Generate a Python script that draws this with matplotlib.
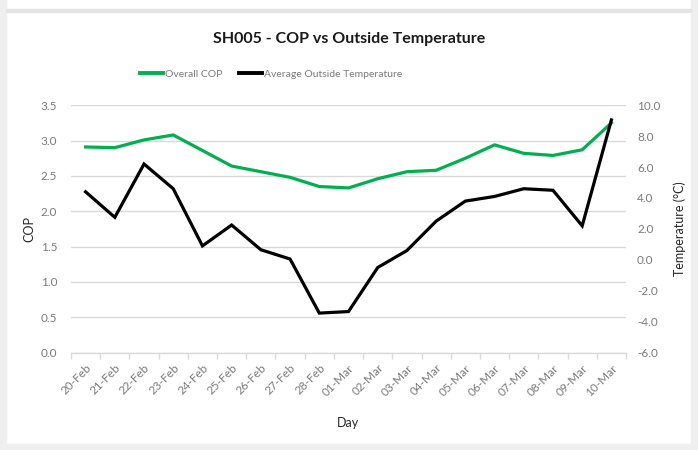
import matplotlib
matplotlib.use("Agg")
import matplotlib.pyplot as plt
from matplotlib.patches import Rectangle
from matplotlib.lines import Line2D
from matplotlib.ticker import FixedLocator, NullFormatter

plt.rcParams['font.family'] = ['Lato', 'DejaVu Sans']
plt.rcParams['axes.unicode_minus'] = False

days = ["20-Feb", "21-Feb", "22-Feb", "23-Feb", "24-Feb", "25-Feb", "26-Feb",
        "27-Feb", "28-Feb", "01-Mar", "02-Mar", "03-Mar", "04-Mar", "05-Mar",
        "06-Mar", "07-Mar", "08-Mar", "09-Mar", "10-Mar"]
cop = [2.91, 2.90, 3.01, 3.08, 2.86, 2.64, 2.56, 2.48, 2.35, 2.33,
       2.46, 2.56, 2.58, 2.75, 2.94, 2.82, 2.79, 2.87, 3.25]
temp = [4.4, 2.75, 6.2, 4.6, 0.9, 2.25, 0.65, 0.05, -3.45, -3.35,
        -0.5, 0.6, 2.5, 3.8, 4.1, 4.6, 4.5, 2.2, 9.05]
cop_ticks = [0.0, 0.5, 1.0, 1.5, 2.0, 2.5, 3.0, 3.5]
temp_ticks = [-6.0, -4.0, -2.0, 0.0, 2.0, 4.0, 6.0, 8.0, 10.0]

W, H = 698, 450
fig = plt.figure(figsize=(W / 100, H / 100), dpi=100)
fig.patch.set_facecolor('white')

# outer frame (screenshot border)
border = '#efefef'
fig.patches.append(Rectangle((0, 0), 6 / W, 1, transform=fig.transFigure, color=border, zorder=0))
fig.patches.append(Rectangle((691 / W, 0), 7 / W, 1, transform=fig.transFigure, color=border, zorder=0))
fig.patches.append(Rectangle((0, 0), 1, 6 / H, transform=fig.transFigure, color=border, zorder=0))
fig.patches.append(Rectangle((6 / W, 1 - 12 / H), 685 / W, 3 / H, transform=fig.transFigure, color='#e4e4e4', zorder=0))

left, right, top, bottom = 71, 626, 105.3, 352.5
ax = fig.add_axes([left / W, 1 - bottom / H, (right - left) / W, (bottom - top) / H])
ax.set_facecolor('none')
x = list(range(len(days)))

grid_c = '#d9d9d9'
tick_c = '#7a7a7a'
ax.set_ylim(0, 3.5)
ax.set_xlim(-0.5, len(days) - 0.5)
ax.set_yticks(cop_ticks)
ax.set_yticklabels([f"{v:.1f}" for v in cop_ticks])
ax.yaxis.grid(True, color=grid_c, lw=1.0)
ax.set_axisbelow(True)
for s in ['top', 'right', 'left']:
    ax.spines[s].set_visible(False)
ax.spines['bottom'].set_color(grid_c)
ax.spines['bottom'].set_linewidth(1.0)

ax.set_xticks(x)
ax.set_xticklabels(days, rotation=45, ha='right', rotation_mode='anchor')
ax.tick_params(axis='x', which='major', length=0, pad=7, labelsize=8.5, labelcolor=tick_c)
ax.xaxis.set_minor_locator(FixedLocator([i - 0.5 for i in range(len(days) + 1)]))
ax.xaxis.set_minor_formatter(NullFormatter())
ax.tick_params(axis='x', which='minor', length=4, color=grid_c, width=1.0)
ax.tick_params(axis='y', length=0, pad=10, labelsize=8.5, labelcolor=tick_c)

ax2 = ax.twinx()
ax2.set_ylim(-6, 10)
ax2.set_yticks(temp_ticks)
ax2.set_yticklabels([f"{v:.1f}" for v in temp_ticks])
for s in ['top', 'right', 'left', 'bottom']:
    ax2.spines[s].set_visible(False)
ax2.tick_params(axis='y', length=0, pad=8, labelsize=8.5, labelcolor=tick_c)

green = '#00B050'
ax.plot(x, cop, color=green, lw=2.3, solid_joinstyle='round', zorder=3)
ax2.plot(x, temp, color='black', lw=2.3, solid_joinstyle='miter', zorder=3)

ax.set_ylabel('COP', fontsize=9, color='#262626', labelpad=4)
ax2.set_ylabel('Temperature (°C)', fontsize=9, color='#262626', labelpad=9)
ax.set_xlabel('Day', fontsize=9, color='#262626', labelpad=14)

fig.text(349 / W, 1 - 39 / H, 'SH005 - COP vs Outside Temperature', ha='center', va='center',
         fontsize=11.5, fontweight='bold', color='#1a1a1a')

handles = [Line2D([], [], color=green, lw=2.8), Line2D([], [], color='black', lw=2.8)]
fig.legend(handles, ['Overall COP', 'Average Outside Temperature'], loc='center',
           bbox_to_anchor=(271 / W, 1 - 74 / H), ncol=2, frameon=False, fontsize=7.5,
           labelcolor='#7a7a7a', handlelength=2.2, handletextpad=0.2, columnspacing=1.6)

fig.savefig('out.png', dpi=100, facecolor=fig.get_facecolor())
